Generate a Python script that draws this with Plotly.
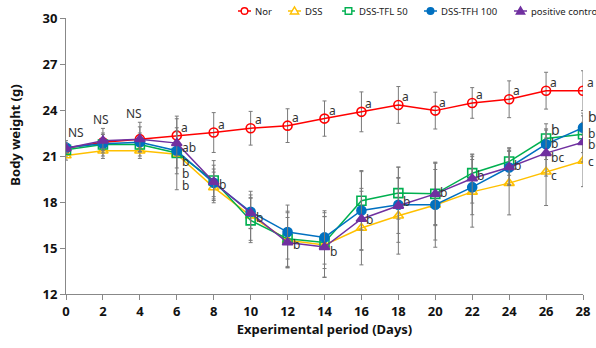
import plotly.graph_objects as go

days = [0, 2, 4, 6, 8, 10, 12, 14, 16, 18, 20, 22, 24, 26, 28]

nor = [21.5, 21.9, 22.1, 22.33, 22.53, 22.81, 22.98, 23.44, 23.88, 24.33, 23.96, 24.46, 24.70, 25.26, 25.26]
nor_err = [0.5, 0.9, 1.1, 1.1, 1.3, 1.1, 1.1, 1.15, 1.3, 1.2, 1.2, 1.0, 1.2, 1.2, 1.3]

dss = [21.03, 21.34, 21.34, 21.12, 18.95, 17.1, 15.5, 15.2, 16.3, 17.1, 17.8, 18.66, 19.23, 19.97, 20.68]
dss_err = [0.3, 0.5, 0.5, 0.9, 1.0, 1.6, 1.8, 2.1, 2.4, 2.5, 2.75, 2.3, 2.07, 2.2, 1.68]

tfl = [21.4, 21.75, 21.75, 21.2, 19.4, 16.8, 15.6, 15.36, 18.08, 18.58, 18.53, 19.88, 20.64, 22.14, 22.42]
tfl_err = [0.3, 0.4, 0.5, 2.4, 1.3, 1.45, 1.8, 1.7, 1.9, 1.7, 2.07, 1.2, 0.9, 0.96, 1.2]

tfh = [21.55, 21.8, 21.9, 21.34, 19.25, 17.36, 16.04, 15.69, 17.45, 17.82, 17.82, 18.97, 20.25, 21.77, 22.85]
tfh_err = [0.3, 0.6, 0.6, 1.5, 0.9, 1.1, 1.76, 1.74, 2.6, 2.45, 2.3, 1.8, 1.1, 1.0, 0.95]

pc = [21.5, 22.0, 22.1, 21.84, 19.3, 17.28, 15.36, 15.06, 16.89, 17.75, 18.53, 19.53, 20.27, 21.19, 21.9]
pc_err = [0.3, 0.5, 0.8, 0.8, 1.1, 1.0, 1.63, 1.98, 2.0, 1.8, 2.0, 1.6, 1.2, 1.5, 1.3]

series_names = ["Nor", "DSS", "DSS-TFL 50", "DSS-TFH 100", "positive control"]
series_vals = [nor, dss, tfl, tfh, pc]
series_errs = [nor_err, dss_err, tfl_err, tfh_err, pc_err]
colors = ["#FF0000", "#FFC000", "#00B050", "#0070C0", "#7030A0"]
symbols = ["circle-open", "triangle-up-open", "square-open", "circle", "triangle-up"]

ns_labels = [(0.55, 22.55, "NS"), (1.9, 23.4, "NS"), (3.7, 23.75, "NS")]
nor_letters = ["", "", "", "a", "a", "a", "a", "a", "a", "a", "a", "a", "a", "a", "a"]
other_letters = [
    (6, 21.55, "ab", 12), (6, 20.64, "b", 12), (6, 19.88, "b", 12), (6, 19.07, "b", 12),
    (8, 19.12, "b", 12), (10, 16.99, "b", 12), (12, 15.21, "b", 12), (14, 14.78, "b", 12),
    (16, 16.84, "b", 12), (18, 18.03, "b", 12), (20, 18.62, "b", 12), (22, 19.73, "b", 12),
    (24, 20.36, "b", 12), (26, 22.7, "b", 14), (26, 21.84, "b", 12), (26, 20.9, "bc", 12),
    (26, 19.73, "c", 12), (28, 23.57, "b", 14), (28, 22.49, "b", 12), (28, 21.77, "bc", 12),
    (28, 20.64, "c", 12),
]

W, H = 596, 348
ML, MR, MT, MB = 66, 13, 18, 54
PW, PH = W - ML - MR, H - MT - MB

fig = go.Figure()
for name, vals, errs, color, sym in zip(series_names, series_vals, series_errs, colors, symbols):
    fig.add_trace(go.Scatter(
        x=days, y=vals, name=name, mode="lines+markers", showlegend=False,
        line=dict(color=color, width=1.5),
        marker=dict(symbol=sym, size=9, color=color, line=dict(color=color, width=1.6)),
        error_y=dict(type="data", array=errs, visible=True, color="#7a7a7a", thickness=1, width=2),
    ))

font_lbl = dict(size=12, color="#333333", family="Noto Sans")
ann = []
for d, v, t in ns_labels:
    ann.append(dict(x=d, y=v, text=t, showarrow=False, font=font_lbl))
for d, v, t in zip(days, nor, nor_letters):
    if t:
        ann.append(dict(x=d, y=v, text=t, showarrow=False, xanchor="left", yanchor="bottom",
                        xshift=2, yshift=-2, font=font_lbl))
for d, v, t, s in other_letters:
    ann.append(dict(x=d, y=v, text=t, showarrow=False, xanchor="left", xshift=3,
                    font=dict(size=s, color="#333333", family="Noto Sans")))
ann.append(dict(x=-0.098, y=0.575, xref="x domain", yref="y domain", xanchor="center",
                yanchor="middle", text="<b>Body weight (g)</b>", textangle=-90, showarrow=False,
                font=dict(size=13, color="#111111", family="Noto Sans")))

# compact legend drawn with shapes (pixel positions converted to paper coordinates)
leg_left = [238, 288, 342, 424, 514]
leg_y = 11
shapes = []
def px_x(p):
    return (p - ML) / PW
def px_y(p):
    return (H - MB - p) / PH
for lx, name, color, sym in zip(leg_left, series_names, colors, symbols):
    shapes.append(dict(type="line", xref="paper", yref="paper", x0=px_x(lx), x1=px_x(lx + 13),
                       y0=px_y(leg_y), y1=px_y(leg_y), line=dict(color=color, width=1.5)))
    cx, cy, r = lx + 6.5, leg_y, 3.3
    fill = color if "open" not in sym else "white"
    if sym.startswith("circle"):
        shapes.append(dict(type="circle", xref="paper", yref="paper",
                           x0=px_x(cx - r), x1=px_x(cx + r), y0=px_y(cy + r), y1=px_y(cy - r),
                           fillcolor=fill, line=dict(color=color, width=1.4)))
    elif sym.startswith("square"):
        shapes.append(dict(type="rect", xref="paper", yref="paper",
                           x0=px_x(cx - r), x1=px_x(cx + r), y0=px_y(cy + r), y1=px_y(cy - r),
                           fillcolor=fill, line=dict(color=color, width=1.4)))
    else:
        path = "M {:.5f} {:.5f} L {:.5f} {:.5f} L {:.5f} {:.5f} Z".format(
            px_x(cx), px_y(cy - 4.2), px_x(cx - 4.2), px_y(cy + 3), px_x(cx + 4.2), px_y(cy + 3))
        shapes.append(dict(type="path", xref="paper", yref="paper", path=path,
                           fillcolor=fill, line=dict(color=color, width=1.4)))
    ann.append(dict(xref="paper", yref="paper", x=px_x(lx + 14.5), y=px_y(leg_y), text=name,
                    xanchor="left", yanchor="middle", showarrow=False,
                    font=dict(size=9.5, color="#222222", family="Noto Sans")))

fig.update_layout(
    width=W, height=H,
    margin=dict(l=ML, r=MR, t=MT, b=MB),
    paper_bgcolor="white", plot_bgcolor="white",
    showlegend=False,
    annotations=ann, shapes=shapes,
    font=dict(family="Noto Sans"),
    xaxis=dict(
        range=[0, 28], tickvals=days, ticks="outside", ticklen=5, tickcolor="#888888",
        showline=True, linecolor="#888888", linewidth=1, showgrid=False, zeroline=False,
        automargin=False,
        tickfont=dict(size=13, color="#111111", family="Noto Sans", weight="bold"),
        title=dict(text="<b>Experimental period (Days)</b>", standoff=6,
                   font=dict(size=13, color="#111111", family="Noto Sans")),
    ),
    yaxis=dict(
        range=[12, 30], tickvals=[12, 15, 18, 21, 24, 27, 30], ticks="outside", ticklen=5,
        tickcolor="#888888", showline=True, linecolor="#888888", linewidth=1,
        showgrid=False, zeroline=False, automargin=False,
        tickfont=dict(size=13, color="#111111", family="Noto Sans", weight="bold"),
    ),
)

fig.write_html("out.html", config={"displayModeBar": False},
               post_script="document.body.style.margin='0';document.body.style.overflow='hidden';")
